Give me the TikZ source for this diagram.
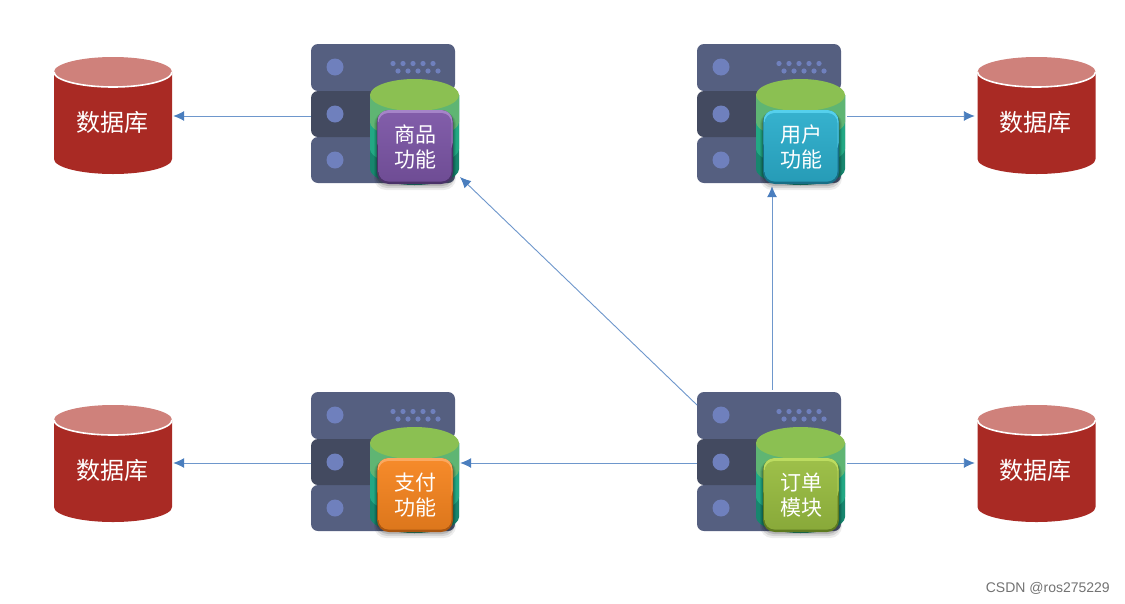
\documentclass[tikz,border=0pt]{standalone}
\usepackage{fontspec}
\setmainfont{Noto Sans CJK SC}
\newfontfamily\wmfont{Liberation Sans}
\usetikzlibrary{arrows.meta}
\definecolor{srvA}{HTML}{555F80}
\definecolor{srvB}{HTML}{434A60}
\definecolor{srvDot}{HTML}{6F80BD}
\definecolor{cylTop}{HTML}{8BC052}
\definecolor{cylA}{HTML}{5FB573}
\definecolor{cylB}{HTML}{22A884}
\definecolor{cylC}{HTML}{17866E}
\definecolor{dbBody}{HTML}{A92A24}
\definecolor{dbTop}{HTML}{CF817B}
\definecolor{linkc}{HTML}{6E97CC}
\definecolor{tipc}{HTML}{4A7EBE}
\definecolor{purA}{HTML}{7B55A5}\definecolor{purB}{HTML}{A585C8}\definecolor{purC}{HTML}{4A3268}
\definecolor{bluA}{HTML}{2BADCB}\definecolor{bluB}{HTML}{55D0EC}\definecolor{bluC}{HTML}{176E86}
\definecolor{ornA}{HTML}{F5841F}\definecolor{ornB}{HTML}{FBA860}\definecolor{ornC}{HTML}{A85510}
\definecolor{grnA}{HTML}{98BC40}\definecolor{grnB}{HTML}{BCDC60}\definecolor{grnC}{HTML}{5E7A20}
\tikzset{
  link/.style={draw=linkc,line width=0.9pt,-{Latex[length=11pt,width=10pt,color=tipc]}},
  btntext/.style={text=white,font=\fontsize{21}{26}\selectfont,align=center,inner sep=0pt},
  dbtext/.style={text=white,font=\fontsize{24}{28}\selectfont,inner sep=0pt},
  rowbox/.style={rounded corners=7pt},
}
\newcommand{\serverunit}[6]{%
  \begin{scope}[shift={(#2,#3)}]
    \fill[srvA,rowbox] (0,93) rectangle (144,139);
    \fill[srvA,rowbox] (0,0) rectangle (144,47);
    \fill[srvB,rowbox] (0,47) rectangle (144,93);
    \foreach \yy in {23,70,116} \fill[srvDot] (24,\yy) circle (8.5);
    \foreach \xx in {82,92,102,112,122} {
      \fill[srvDot] (\xx,19.5) circle (2.6);
      \fill[srvDot] (\xx+5,27) circle (2.6);
    }
    % cylinder
    \fill[cylC] (59,51) -- (59,125) arc[start angle=180,end angle=0,x radius=44.5,y radius=16] -- (148,51) -- cycle;
    \fill[cylB] (59,51) -- (59,105) arc[start angle=180,end angle=0,x radius=44.5,y radius=16] -- (148,51) -- cycle;
    \fill[cylA] (59,51) -- (59,78) arc[start angle=180,end angle=0,x radius=44.5,y radius=16] -- (148,51) -- cycle;
    \fill[cylTop] (103.5,51) ellipse[x radius=44.5,y radius=16];
    % soft shadow under the button
    \foreach \dd/\oo in {6/0.07,4/0.10,2/0.14}
      \fill[black,opacity=\oo,rounded corners=12pt] (66-\dd/2,68) rectangle (142+\dd/2,140+\dd);
    % button
    \fill[#4C,rounded corners=12pt] (66,66) rectangle (142,140);
    \fill[#4B,rounded corners=11pt] (66.5,66) rectangle (141.5,110);
    \shade[rounded corners=10pt,top color=#4A!95!white,bottom color=#4A!90!black] (67.5,69) rectangle (140.5,137.5);
    \node[btntext] (#1text) at (104.5,103) {#5\\[-1pt]#6};
  \end{scope}
}
\newcommand{\database}[4]{%
  \begin{scope}[shift={(#2,#3)}]
    \fill[dbBody] (0,15) -- (0,102) arc[start angle=180,end angle=0,x radius=59,y radius=15] -- (118,15) -- cycle;
    \fill[dbTop] (59,15) ellipse[x radius=59,y radius=15];
    \draw[white,line width=1.6pt] (0,15) arc[start angle=180,end angle=0,x radius=59,y radius=15];
    \node[dbtext] (#1text) at (58,65) {数据库};
  \end{scope}
  \node[inner sep=0pt,minimum width=118pt,minimum height=118pt] (#1) at (#2+59,#4) {};
}
\begin{document}
\begin{tikzpicture}[x=1pt,y=-1pt]
\useasboundingbox (0,0) rectangle (1125,603);
\fill[white] (0,0) rectangle (1125,603);

\serverunit{shop}{311}{44}{pur}{商品}{功能}
\serverunit{user}{697}{44}{blu}{用户}{功能}
\serverunit{pay}{311}{392}{orn}{支付}{功能}
\serverunit{order}{697}{392}{grn}{订单}{模块}

\database{dbA}{54}{57}{116}
\database{dbB}{977.5}{57}{116}
\database{dbC}{54}{405}{463}
\database{dbD}{977.5}{405}{463}

\node[minimum width=149pt,minimum height=144pt,inner sep=0pt] (shop) at (385.5,116) {};
\node[minimum width=150pt,minimum height=144pt,inner sep=0pt] (user) at (772,116) {};
\node[minimum width=149pt,minimum height=144pt,inner sep=0pt] (pay) at (385.5,463) {};
\node[minimum width=150pt,minimum height=146pt,inner sep=0pt] (order) at (772,463) {};
\coordinate (shopdiag) at (460,177);
\coordinate (orderdiag) at (697,405);

\draw[link] (shop.west) -- ([xshift=1pt]dbA.east);
\draw[link] (user.east) -- ([xshift=-2.5pt]dbB.west);
\draw[link] (pay.west) -- ([xshift=1pt]dbC.east);
\draw[link] (order.east) -- ([xshift=-2.5pt]dbD.west);
\draw[link] (order.west) -- (pay.east);
\draw[link] (order.north) -- ([yshift=2pt]user.south);
\draw[link] (orderdiag) -- (shopdiag);

\node[anchor=east,inner sep=0pt,text=black!55,font=\wmfont\fontsize{14}{16}\selectfont] (wm) at (1110,588) {CSDN @ros275229};
\end{tikzpicture}
\end{document}
